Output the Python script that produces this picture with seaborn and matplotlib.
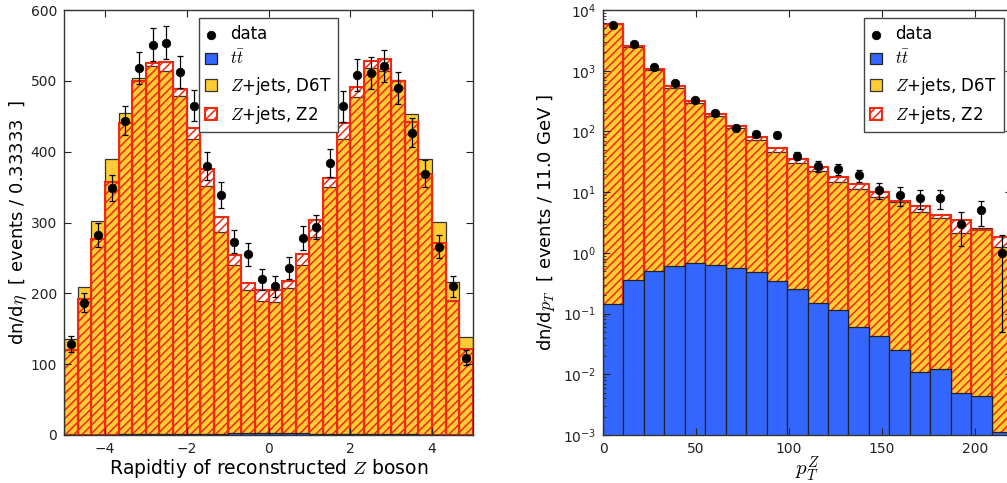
import numpy as np
import pandas as pd
import matplotlib
matplotlib.use("Agg")
import matplotlib.pyplot as plt
import seaborn as sns

# rapidity of the Z (30 bins from -5 to 5)
eta_edges = np.linspace(-5, 5, 31)
eta_ttbar = [0.2, 0.3, 0.5, 0.7, 0.9, 1.1, 1.3, 1.5, 1.7, 1.9, 2.0, 2.1, 2.2, 2.2, 2.3,
             2.3, 2.2, 2.2, 2.1, 2.0, 1.9, 1.7, 1.5, 1.3, 1.1, 0.9, 0.7, 0.5, 0.3, 0.2]
eta_d6t = [135, 208, 302, 389, 454, 503, 519, 512, 477, 416, 350, 285, 238, 203, 187,
           185, 205, 238, 277, 348, 416, 475, 516, 512, 500, 452, 389, 300, 215, 138]
eta_z2 = [120, 192, 276, 356, 440, 499, 524, 525, 487, 432, 373, 305, 252, 213, 203,
          202, 215, 254, 301, 361, 438, 489, 526, 529, 498, 441, 368, 270, 189, 121]
eta_data = [128, 187, 282, 349, 444, 518, 551, 554, 512, 465, 380, 339, 273, 255, 220,
            210, 236, 278, 294, 384, 464, 508, 511, 521, 490, 427, 369, 266, 210, 109]
eta_err = [11.3, 13.7, 16.8, 18.7, 21.1, 22.8, 23.5, 23.5, 22.6, 21.6, 19.5, 18.4, 16.5, 16.0, 14.8,
           14.5, 15.4, 16.7, 17.1, 19.6, 21.5, 22.5, 22.6, 22.8, 22.1, 20.7, 19.2, 16.3, 14.5, 10.4]

# transverse momentum of the Z (11 GeV bins)
pt_edges = np.arange(0, 221, 11)
pt_ttbar = [0.144, 0.357, 0.502, 0.607, 0.671, 0.63, 0.57, 0.49, 0.344, 0.25,
            0.148, 0.115, 0.059, 0.043, 0.025, 0.011, 0.012, 0.0049, 0.0044, 0.0011]
pt_d6t = [5800, 2480, 1030, 513, 290, 180, 112, 72, 45, 30.3,
          22.5, 14.8, 11.0, 8.35, 6.85, 4.64, 3.69, 2.15, 2.53, 1.23]
pt_z2 = [5880, 2550, 1067, 560, 317, 194, 124, 81, 53, 35.4,
         25.5, 17.9, 13.7, 10.2, 7.1, 5.98, 4.19, 3.48, 2.38, 1.85]
pt_data = [5585, 2723, 1151, 620, 330, 204, 115, 90, 87, 40,
           27, 24, 19, 11, 9, 8, 8, 3, 5, 1]
pt_err = [75, 52, 34, 25, 18, 14, 11, 9.5, 9.3, 6.3,
          5.2, 4.9, 4.4, 3.3, 3.0, 2.8, 2.8, 1.7, 2.2, 0.95]

labels = ["data", r"$t\bar{t}$", r"$Z$+jets, D6T", r"$Z$+jets, Z2"]

BLUE = "#3366ff"
GOLD = "#ffcc33"

plt.rcParams["mathtext.fontset"] = "cm"
plt.rcParams["font.family"] = "DejaVu Sans"
plt.rcParams["hatch.linewidth"] = 1.1


def draw_panel(ax, edges, ttbar, d6t, z2, data, err):
    bins = list(edges)
    df = pd.DataFrame({
        "x": (edges[:-1] + edges[1:]) / 2,
        "ttbar": ttbar,
        "d6t": d6t,
        "z2": z2,
        "data": data,
        "err": err,
    })
    # Z+jets samples sit on top of ttbar
    df["d6t_stack"] = df["ttbar"] + df["d6t"]
    df["z2_stack"] = df["ttbar"] + df["z2"]

    sns.histplot(data=df, x="x", weights="d6t_stack", bins=bins, color=GOLD,
                 edgecolor="#333333", linewidth=0.9, alpha=1, ax=ax)
    sns.histplot(data=df, x="x", weights="z2_stack", bins=bins, fill=False,
                 color="#f02a10", hatch="////", linewidth=1.5, alpha=1, ax=ax)
    sns.histplot(data=df, x="x", weights="ttbar", bins=bins, color=BLUE,
                 edgecolor="#222222", linewidth=0.9, alpha=1, ax=ax)
    ax.errorbar(df["x"], df["data"], yerr=df["err"], fmt="none", ecolor="black",
                elinewidth=0.9, capsize=2.5, capthick=0.9, zorder=4)
    sns.scatterplot(data=df, x="x", y="data", color="black", s=38, edgecolor="black",
                    linewidth=0.5, zorder=5, ax=ax)
    handles = [ax.collections[-1], ax.containers[2], ax.containers[0], ax.containers[1]]
    ax.tick_params(which="both", direction="in", top=True, right=True,
                   labelsize=10, pad=5, colors="#222222")
    ax.tick_params(which="major", length=5)
    ax.tick_params(which="minor", length=2.5)
    for s in ax.spines.values():
        s.set_color("#333333")
        s.set_linewidth(1.0)
    return handles


fig = plt.figure(figsize=(10.07, 4.83), dpi=100)
ax1 = fig.add_axes([64 / 1007, 48 / 483, 409 / 1007, 425 / 483])
ax2 = fig.add_axes([603 / 1007, 48 / 483, 409 / 1007, 425 / 483])

legend_kw = dict(fontsize=12, handlelength=0.7, handleheight=0.7, handletextpad=0.8,
                 fancybox=False, framealpha=1, edgecolor="#444444",
                 scatterpoints=1, borderaxespad=0.5, borderpad=0.4, labelspacing=0.4)

h1 = draw_panel(ax1, eta_edges, eta_ttbar, eta_d6t, eta_z2, eta_data, eta_err)
ax1.set_xlim(-5, 5)
ax1.set_ylim(0, 600)
ax1.set_xticks([-4, -2, 0, 2, 4])
ax1.set_xlabel(r"Rapidtiy of reconstructed $Z$ boson", fontsize=13.5, labelpad=1)
ax1.set_ylabel(r"dn/d$\eta$  [ events / 0.33333  ]", fontsize=13, labelpad=1)
ax1.legend(h1, labels, loc="upper center", **legend_kw)

ax2.set_yscale("log")
h2 = draw_panel(ax2, pt_edges, pt_ttbar, pt_d6t, pt_z2, pt_data, pt_err)
ax2.set_xlim(0, 220)
ax2.set_ylim(1e-3, 1e4)
ax2.set_xticks([0, 50, 100, 150, 200])
ax2.set_xlabel(r"$p_T^Z$", fontsize=15, labelpad=-1)
ax2.set_ylabel(r"dn/d$p_T$  [ events / 11.0 GeV ]", fontsize=13, labelpad=4)
ax2.legend(h2, labels, loc="upper right", **legend_kw)

fig.savefig("out.png", dpi=100)
